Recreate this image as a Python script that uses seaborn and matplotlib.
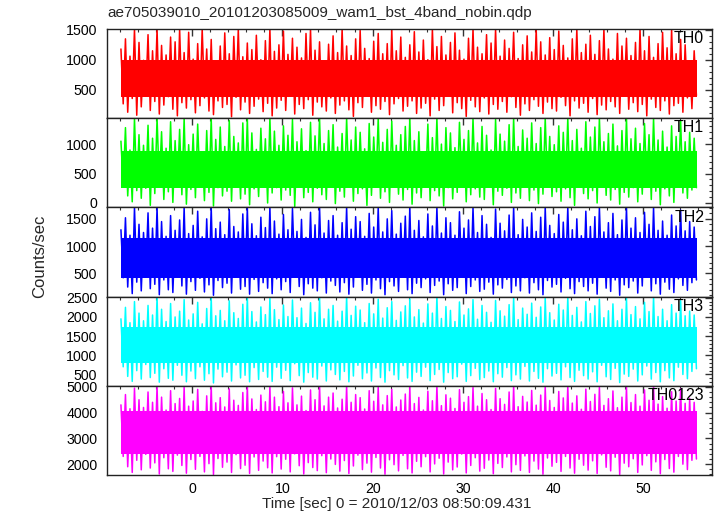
import numpy as np
import pandas as pd
import matplotlib
matplotlib.use("Agg")
import matplotlib.pyplot as plt
from matplotlib.ticker import MultipleLocator
import seaborn as sns

# ---------------- data ----------------
title = "ae705039010_20101203085009_wam1_bst_4band_nobin.qdp"
xlabel = "Time [sec] 0 = 2010/12/03 08:50:09.431"
ylabel = "Counts/sec"
bands = ["TH0", "TH1", "TH2", "TH3", "TH0123"]
colors = ["#ff0000", "#00ff00", "#0000ff", "#00ffff", "#ff00ff"]
t_start = -8.0          # first bin (sec)
bin_width = 0.5         # sec

# per 0.5-s bin: highest and lowest excursion of the light curve
th0_hi = [1180,1350,1060,1515,1290,990,1420,1150,1515,1240,1080,1380,1300,1515,1120,1460,
          1010,1270,1515,1180,1340,960,1230,1450,1100,1390,1515,1050,1280,1170,1410,1000,
          1320,1515,1140,1250,1480,1090,1360,1210,1030,1440,1515,1160,1300,980,1260,1400,
          1120,1515,1230,1070,1350,1490,1190,1020,1310,1440,1100,1270,1515,1150,1380,1040,
          1250,1470,1130,1330,1000,1515,1220,1390,1080,1290,1450,1160,1010,1360,1515,1210,
          1100,1420,1280,1515,1060,1330,1190,1460,1020,1250,1400,1130,1515,1300,1080,1370,
          1170,1480,1240,1030,1350,1515,1120,1260,1410,1090,1320,1515,1180,1010,1440,1230,
          1360,1070,1290,1515,1150,1390,1040,1270,1460,1200,1515,1100,1340,1250,980,1150]
th0_lo = [260,120,350,70,210,400,150,300,90,240,380,170,60,280,190,330,
          110,230,360,140,80,310,200,250,45,370,160,290,100,220,340,130,
          270,60,190,320,150,400,90,250,180,330,70,290,210,140,360,100,
          240,310,160,50,280,200,390,120,230,170,300,80,260,350,140,220,
          310,100,190,270,60,340,150,230,400,110,280,180,50,320,210,130,
          360,90,250,170,300,120,380,200,70,260,150,330,220,100,290,180,
          140,370,230,60,310,190,270,120,350,80,240,160,300,210,100,390,
          170,280,130,250,60,340,200,150,310,90,230,270,120,360,180,400]
th1_hi = [1050,1280,900,1440,1160,980,1320,1100,1440,1210,930,1380,1060,1250,1440,990,
          1170,1340,870,1230,1440,1080,1290,960,1400,1130,1020,1360,1440,1190,910,1270,
          1090,1440,1220,980,1310,1150,1420,1040,1260,890,1370,1140,1440,1010,1230,1330,
          950,1180,1440,1070,1290,1200,920,1350,1120,1440,1030,1250,1390,980,1160,1300,
          1440,1060,1210,870,1340,1110,1440,1000,1280,1190,940,1370,1080,1230,1440,1020,
          1300,1150,900,1420,1170,1050,1330,1440,960,1240,1100,1360,1010,1280,1440,1130,
          990,1310,1200,1440,1060,1250,930,1380,1120,1290,1440,1040,1180,1340,970,1230,
          1440,1090,1270,1010,1350,1160,1440,1070,1220,950,1310,1130,1400,1040,1200,1100]
th1_lo = [300,120,20,210,80,250,-40,160,330,60,190,10,270,140,-20,230,
          90,310,40,180,-50,260,120,200,30,340,70,150,-30,240,110,290,
          0,170,260,50,220,130,-60,300,90,180,20,250,140,60,320,-10,
          200,100,270,30,160,240,-40,130,310,80,190,10,280,150,50,230,
          -20,170,90,300,40,210,120,-50,260,70,180,330,20,140,240,100,
          60,290,-30,200,130,250,10,170,80,320,40,220,-10,150,270,110,
          190,30,240,90,-40,310,160,70,210,0,280,130,50,230,-20,180,
          100,260,20,150,300,60,200,-30,240,120,10,290,170,80,220,260]
th2_hi = [1300,1520,1200,1710,1400,1250,1610,1330,1710,1450,1180,1560,1290,1480,1710,1230,
          1380,1640,1170,1500,1710,1320,1440,1210,1670,1360,1260,1590,1710,1410,1190,1530,
          1340,1710,1460,1220,1580,1300,1690,1270,1490,1160,1620,1390,1710,1240,1470,1560,
          1200,1430,1710,1310,1540,1450,1180,1600,1350,1710,1260,1500,1650,1220,1420,1550,
          1710,1290,1470,1170,1590,1370,1710,1240,1520,1430,1200,1630,1330,1480,1710,1250,
          1560,1400,1160,1680,1420,1280,1570,1710,1210,1490,1350,1610,1270,1530,1710,1380,
          1230,1580,1440,1710,1300,1500,1190,1640,1360,1540,1710,1260,1430,1600,1210,1480,
          1710,1330,1520,1250,1620,1400,1710,1290,1460,1200,1570,1370,1660,1280,1450,1350]
th2_lo = [420,250,130,340,180,460,220,300,110,380,200,150,440,270,120,350,
          190,410,160,290,100,370,240,320,140,450,210,260,120,390,170,330,
          230,130,400,200,350,150,470,260,110,310,230,180,420,140,360,280,
          160,330,120,250,440,190,300,140,380,220,110,350,270,170,430,200,
          130,320,240,400,150,280,360,110,310,190,240,460,130,260,380,170,
          210,340,120,290,230,390,150,270,180,420,140,330,200,110,370,250,
          300,160,410,220,130,350,260,180,320,120,440,230,170,380,100,290,
          240,360,140,270,430,180,310,120,340,210,150,400,280,190,330,380]
th3_hi = [1950,2250,1850,2400,2100,1900,2300,2050,2530,2200,1880,2350,2000,2150,2450,1920,
          2080,2380,1820,2220,2500,2030,2170,1900,2420,2110,1960,2330,2530,2140,1870,2260,
          2060,2480,2190,1930,2310,2010,2440,1980,2230,1830,2370,2120,2500,1950,2200,2300,
          1890,2150,2530,2040,2280,2180,1850,2350,2080,2460,1970,2240,2400,1910,2130,2290,
          2470,2000,2190,1840,2340,2100,2530,1960,2270,2170,1880,2390,2050,2210,2450,1940,
          2300,2120,1860,2430,2160,2020,2320,2500,1930,2230,2070,2360,1990,2260,2480,2110,
          1920,2330,2180,2510,2040,2250,1870,2400,2090,2290,2460,1980,2160,2340,1900,2200,
          2490,2060,2270,1950,2380,2140,2530,2010,2200,1900,2320,2100,2420,2030,2150,2050]
th3_lo = [700,450,320,600,380,760,420,530,300,650,400,350,740,480,310,590,
          390,700,350,520,280,640,440,560,330,750,410,480,310,680,370,580,
          430,320,690,400,610,340,780,470,300,550,430,380,720,330,620,500,
          360,580,310,460,740,390,540,330,670,420,300,600,490,370,730,410,
          320,560,450,690,340,500,630,300,550,390,440,770,320,470,660,370,
          420,590,310,520,430,680,340,490,380,710,330,580,400,300,650,460,
          530,360,700,420,320,610,470,380,570,310,740,440,370,660,290,510,
          450,640,330,490,720,380,550,310,600,410,340,690,500,390,580,650]
th0123_hi = [4300,4700,4150,4950,4500,4200,4800,4400,5040,4600,4100,4850,4350,4550,4980,4250,
             4450,4900,4050,4650,5040,4380,4580,4220,4920,4480,4280,4780,5040,4530,4120,4680,
             4420,5000,4600,4230,4820,4380,4960,4300,4640,4080,4880,4500,5040,4260,4600,4760,
             4180,4520,5040,4400,4700,4580,4140,4850,4440,4980,4300,4660,4900,4220,4490,4720,
             4990,4350,4590,4100,4830,4460,5040,4270,4690,4560,4160,4890,4400,4620,4970,4250,
             4740,4500,4120,4940,4540,4320,4800,5020,4230,4630,4410,4860,4290,4680,4990,4470,
             4200,4820,4570,5030,4370,4650,4130,4910,4430,4710,4980,4280,4540,4840,4190,4600,
             5000,4390,4700,4250,4880,4480,5040,4330,4620,4170,4810,4450,4930,4360,4550,4400]
th0123_lo = [2300,1900,1680,2150,1780,2380,1850,2050,1620,2250,1820,1720,2350,1950,1650,2180,
             1800,2300,1700,2020,1600,2220,1880,2080,1680,2370,1830,1960,1640,2280,1760,2120,
             1860,1660,2290,1810,2190,1700,2400,1940,1620,2060,1870,1750,2330,1670,2200,1990,
             1730,2140,1640,1930,2350,1790,2040,1690,2260,1850,1610,2170,1980,1740,2340,1820,
             1660,2110,1900,2290,1700,2010,2230,1620,2080,1780,1890,2390,1660,1950,2250,1730,
             1840,2160,1630,2030,1870,2280,1700,1980,1760,2320,1680,2120,1810,1610,2240,1920,
             2070,1720,2300,1850,1650,2190,1960,1770,2130,1640,2360,1880,1740,2270,1600,2040,
             1900,2210,1680,1970,2330,1760,2090,1630,2180,1830,1690,2300,2000,1790,2150,2200]
# solid core of each band (where the trace is dense)
core_lo = [380, 260, 420, 800, 2400]
core_hi = [1000, 880, 1150, 1750, 4050]

# axis ranges and ticks
ylims = [(20, 1515), (-75, 1440), (75, 1710), (205, 2530), (1580, 5040)]
ymajor = [500, 500, 500, 500, 1000]
yminor = [100, 100, 100, 100, 200]
xlim = (-9.42, 57.6)

his = [th0_hi, th1_hi, th2_hi, th3_hi, th0123_hi]
los = [th0_lo, th1_lo, th2_lo, th3_lo, th0123_lo]

# ---------------- figure ----------------
sns.set_style("white")
plt.rcParams["font.family"] = ["Liberation Sans", "DejaVu Sans"]

fig = plt.figure(figsize=(7.17, 5.16), dpi=100)
left, right, top, bottom = 107/717, 712/717, 1 - 29/516, 1 - 475/516
h = (top - bottom) / 5

for k in range(5):
    ax = fig.add_axes([left, top - (k + 1) * h, right - left, h])
    hi = np.asarray(his[k], dtype=float)
    lo = np.asarray(los[k], dtype=float)
    n = len(hi)
    t0 = t_start + np.arange(n) * bin_width
    xs = np.column_stack([t0 + 0.25 * bin_width, t0 + 0.75 * bin_width]).ravel()
    ys = np.column_stack([hi, lo]).ravel()
    df = pd.DataFrame({"t": xs, "rate": ys})
    tend = t_start + n * bin_width
    ax.fill_between([t_start + 0.1, tend - 0.1], [core_lo[k]] * 2, [core_hi[k]] * 2,
                    color=colors[k], lw=0)
    sns.lineplot(data=df, x="t", y="rate", ax=ax, color=colors[k], lw=1.1,
                 estimator=None, sort=False)
    ax.set_xlim(*xlim)
    ax.set_ylim(*ylims[k])
    ax.set_xlabel("")
    ax.set_ylabel("")
    ax.xaxis.set_major_locator(MultipleLocator(10))
    ax.xaxis.set_minor_locator(MultipleLocator(2))
    ax.yaxis.set_major_locator(MultipleLocator(ymajor[k]))
    ax.yaxis.set_minor_locator(MultipleLocator(yminor[k]))
    ax.tick_params(which="both", direction="in", top=True, right=True,
                   color="#333333", labelsize=10.2, labelcolor="black")
    ax.tick_params(which="major", length=5, width=1, pad=7)
    ax.tick_params(which="minor", length=2.5, width=0.8)
    ax.tick_params(axis="x", pad=5)
    if k < 4:
        ax.tick_params(axis="x", labelbottom=False)
    for s in ax.spines.values():
        s.set_color("#222222")
        s.set_linewidth(1.0)
    ax.text(0.987, 0.975, bands[k], transform=ax.transAxes, ha="right", va="top",
            fontsize=11.5, color="black")

fig.text(107/717, 1 - 13/516, title, ha="left", va="center", fontsize=11)
fig.text(397/717, 1 - 504/516, xlabel, ha="center", va="center", fontsize=11)
fig.text(40/717, 1 - 256/516, ylabel, ha="center", va="center", rotation=90,
         fontsize=12)

fig.savefig("out.png", dpi=100)
